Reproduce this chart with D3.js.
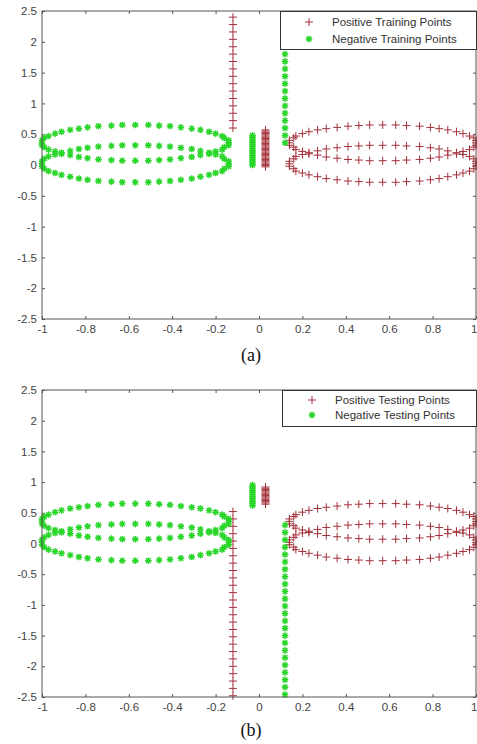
<!DOCTYPE html>
<html><head><meta charset="utf-8">
<script src="https://cdn.jsdelivr.net/npm/d3@7"></script>
<style>
html,body{margin:0;padding:0;background:#fff;}
svg{display:block;}
</style></head>
<body>
<script>
// ---------- data ----------
const xTicks = [-1,-0.8,-0.6,-0.4,-0.2,0,0.2,0.4,0.6,0.8,1];
const xTickLabels = ["-1","-0.8","-0.6","-0.4","-0.2","0","0.2","0.4","0.6","0.8","1"];
const yTicks = [-2.5,-2,-1.5,-1,-0.5,0,0.5,1,1.5,2,2.5];
const yTickLabels = ["-2.5","-2","-1.5","-1","-0.5","0","0.5","1","1.5","2","2.5"];

// ring points (shared by training and testing sets)
const ringNegX = [-0.14,-0.14,-0.16,-0.17,-0.20,-0.23,-0.27,-0.31,-0.36,-0.41,-0.46,-0.51,-0.57,-0.63,-0.68,-0.74,-0.79,-0.83,-0.87,-0.91,-0.94,-0.97,-0.99,-1.00,-1.00,-1.00,-0.99,-0.97,-0.94,-0.91,-0.87,-0.83,-0.79,-0.74,-0.68,-0.63,-0.57,-0.51,-0.46,-0.41,-0.36,-0.31,-0.27,-0.23,-0.20,-0.17,-0.16,-0.14];
const ringPosX = [0.14,0.14,0.16,0.17,0.20,0.23,0.27,0.31,0.36,0.41,0.46,0.51,0.57,0.63,0.68,0.74,0.79,0.83,0.87,0.91,0.94,0.97,0.99,1.00,1.00,1.00,0.99,0.97,0.94,0.91,0.87,0.83,0.79,0.74,0.68,0.63,0.57,0.51,0.46,0.41,0.36,0.31,0.27,0.23,0.20,0.17,0.16,0.14];
const ringUpperY = [0.36,0.40,0.44,0.47,0.51,0.54,0.57,0.59,0.61,0.63,0.64,0.65,0.65,0.65,0.64,0.63,0.61,0.59,0.57,0.54,0.51,0.47,0.44,0.40,0.36,0.32,0.29,0.25,0.22,0.18,0.16,0.13,0.11,0.09,0.08,0.07,0.07,0.07,0.08,0.09,0.11,0.13,0.16,0.18,0.22,0.25,0.29,0.32];
const ringLowerY = [0.02,0.06,0.10,0.14,0.17,0.20,0.23,0.26,0.28,0.30,0.31,0.32,0.32,0.32,0.31,0.30,0.28,0.26,0.23,0.20,0.17,0.14,0.10,0.06,0.02,-0.02,-0.06,-0.10,-0.13,-0.16,-0.19,-0.22,-0.24,-0.26,-0.27,-0.28,-0.28,-0.28,-0.27,-0.26,-0.24,-0.22,-0.19,-0.16,-0.13,-0.10,-0.06,-0.02];

const columnPosX = -0.12;
const columnNegX = 0.12;
const blockPosX = 0.03;
const blockNegX = -0.03;

const trainPosColumnY = [0.60,0.72,0.84,0.96,1.08,1.20,1.32,1.44,1.56,1.68,1.80,1.92,2.04,2.16,2.28,2.40];
const trainNegColumnY = [0.36,0.48,0.60,0.72,0.84,0.96,1.08,1.20,1.32,1.44,1.56,1.68,1.80,1.92,2.04,2.16,2.28,2.40];
const trainPosBlockY = [-0.03,-0.01,0.01,0.03,0.05,0.07,0.09,0.11,0.13,0.15,0.17,0.19,0.21,0.23,0.25,0.27,0.29,0.31,0.33,0.35,0.37,0.39,0.41,0.43,0.45,0.47,0.49,0.51,0.53,0.55,0.57];
const trainNegBlockY = [0.00,0.03,0.06,0.09,0.12,0.15,0.18,0.21,0.24,0.27,0.30,0.33,0.36,0.39,0.42,0.45,0.48];

const testPosColumnY = [0.52,0.40,0.28,0.16,0.04,-0.08,-0.20,-0.32,-0.44,-0.56,-0.68,-0.80,-0.92,-1.04,-1.16,-1.28,-1.40,-1.52,-1.64,-1.76,-1.88,-2.00,-2.12,-2.24,-2.36,-2.48];
const testNegColumnY = [0.30,0.18,0.06,-0.06,-0.18,-0.30,-0.42,-0.54,-0.66,-0.78,-0.90,-1.02,-1.14,-1.26,-1.38,-1.50,-1.62,-1.74,-1.86,-1.98,-2.10,-2.22,-2.34,-2.46];
const testPosBlockY = [0.64,0.66,0.68,0.70,0.72,0.74,0.76,0.78,0.80,0.82,0.84,0.86,0.88,0.90,0.92];
const testNegBlockY = [0.62,0.65,0.68,0.71,0.74,0.77,0.80,0.83,0.86,0.89,0.92,0.95];

const legendTraining = ["Positive Training Points","Negative Training Points"];
const legendTesting = ["Positive Testing Points","Negative Testing Points"];
const captions = ["(a)","(b)"];

// ---------- build point sets ----------
function ring(xs, ys){ return xs.map((x,i)=>({x:x, y:ys[i]})); }
function column(x, ys){ return ys.map(y=>({x:x, y:y})); }

const trainPos = [].concat(ring(ringPosX, ringUpperY), ring(ringPosX, ringLowerY), column(columnPosX, trainPosColumnY), column(blockPosX, trainPosBlockY));
const trainNeg = [].concat(ring(ringNegX, ringUpperY), ring(ringNegX, ringLowerY), column(columnNegX, trainNegColumnY), column(blockNegX, trainNegBlockY));
const testPos = [].concat(ring(ringPosX, ringUpperY), ring(ringPosX, ringLowerY), column(columnPosX, testPosColumnY), column(blockPosX, testPosBlockY));
const testNeg = [].concat(ring(ringNegX, ringUpperY), ring(ringNegX, ringLowerY), column(columnNegX, testNegColumnY), column(blockNegX, testNegBlockY));

// ---------- drawing ----------
const W = 477, H = 744;
const RED = "#a3303a", GREEN = "#2ad62a";
const PLUS = "M-4,0H4M0,-4V4";
const STAR = "M-3.3,0H3.3M0,-3.3V3.3M-2.4,-2.4L2.4,2.4M-2.4,2.4L2.4,-2.4";
const FONT = "'Liberation Sans', Arial, Helvetica, sans-serif";

const svg = d3.select("body").append("svg").attr("width", W).attr("height", H);

const panels = [
  {top:11, bottom:319, pos:trainPos, neg:trainNeg, legend:legendTraining, caption:captions[0], capY:361,
   lg:{x:280, y:11, w:196, h:38, r1:22, r2:39, mx:309, tx:332}},
  {top:390, bottom:697, pos:testPos, neg:testNeg, legend:legendTesting, caption:captions[1], capY:736,
   lg:{x:282, y:390, w:194, h:36, r1:400, r2:415, mx:312, tx:335}}
];

const left = 42, right = 476;

panels.forEach(p => {
  const x = d3.scaleLinear().domain([-1,1]).range([left,right]);
  const y = d3.scaleLinear().domain([-2.5,2.5]).range([p.bottom,p.top]);
  const g = svg.append("g");

  // axes
  const axB = g.append("g").attr("transform",`translate(0,${p.bottom})`)
    .call(d3.axisBottom(x).tickValues(xTicks).tickSizeInner(-3).tickSizeOuter(0).tickPadding(6)
      .tickFormat((d,i)=>xTickLabels[i]));
  const axT = g.append("g").attr("transform",`translate(0,${p.top})`)
    .call(d3.axisTop(x).tickValues(xTicks).tickSizeInner(-3).tickSizeOuter(0).tickFormat(""));
  const axL = g.append("g").attr("transform",`translate(${left},0)`)
    .call(d3.axisLeft(y).tickValues(yTicks).tickSizeInner(-3).tickSizeOuter(0).tickPadding(5)
      .tickFormat((d,i)=>yTickLabels[i]));
  const axR = g.append("g").attr("transform",`translate(${right},0)`)
    .call(d3.axisRight(y).tickValues(yTicks).tickSizeInner(-3).tickSizeOuter(0).tickFormat(""));
  [axB,axT,axL,axR].forEach(a=>{
    a.select(".domain").remove();
    a.selectAll("line").attr("stroke","#555");
    a.selectAll("text").attr("fill","#444").style("font-family",FONT).style("font-size","11.5px");
  });
  // keep the last x label inside the picture
  axB.selectAll(".tick text").filter(d=>d===1).attr("text-anchor","end").attr("x",1);

  // points
  g.append("g").selectAll("path").data(p.pos).join("path")
    .attr("d",PLUS).attr("transform",d=>`translate(${x(d.x)},${y(d.y)})`)
    .attr("stroke",RED).attr("stroke-width",1).attr("fill","none");
  g.append("g").selectAll("path").data(p.neg).join("path")
    .attr("d",STAR).attr("transform",d=>`translate(${x(d.x)},${y(d.y)})`)
    .attr("stroke",GREEN).attr("stroke-width",1.4).attr("fill","none");

  // frame
  g.append("rect").attr("x",left).attr("y",p.top).attr("width",right-left).attr("height",p.bottom-p.top)
    .attr("fill","none").attr("stroke","#555").attr("stroke-width",1);

  // legend
  const L = p.lg;
  const lg = g.append("g");
  lg.append("rect").attr("x",L.x+0.5).attr("y",L.y+0.5).attr("width",L.w).attr("height",L.h)
    .attr("fill","#fff").attr("stroke","#333").attr("stroke-width",1);
  lg.append("path").attr("d",PLUS).attr("transform",`translate(${L.mx},${L.r1})`)
    .attr("stroke",RED).attr("stroke-width",1).attr("fill","none");
  lg.append("path").attr("d",STAR).attr("transform",`translate(${L.mx},${L.r2})`)
    .attr("stroke",GREEN).attr("stroke-width",1.4).attr("fill","none");
  [[p.legend[0],L.r1],[p.legend[1],L.r2]].forEach(([t,ry])=>{
    lg.append("text").attr("x",L.tx).attr("y",ry).attr("dy","0.35em").text(t)
      .attr("fill","#333").style("font-family",FONT).style("font-size","11.5px");
  });

  // caption
  svg.append("text").attr("x",251).attr("y",p.capY).attr("text-anchor","middle").text(p.caption)
    .style("font-family","'Liberation Serif','Times New Roman',serif").style("font-size","18px").attr("fill","#111");
});
</script>
</body></html>
